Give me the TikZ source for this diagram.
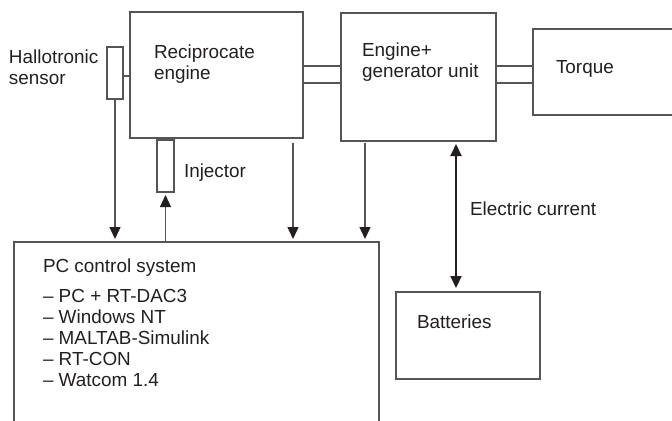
\documentclass[tikz,border=0pt]{standalone}
\usepackage{fontspec}
\setmainfont{Liberation Sans}
\usetikzlibrary{arrows.meta,calc}
\definecolor{linec}{HTML}{555555}
\definecolor{txt}{HTML}{231F20}
\begin{document}
\begin{tikzpicture}[x=0.5pt,y=-0.5pt,
  box/.style={draw=linec, line width=0.7pt, inner sep=0pt, outer sep=0pt},
  lbl/.style={anchor=base west, inner sep=0pt, outer sep=0pt, text=txt, font=\fontsize{9.45}{10.5}\selectfont},
  conn/.style={draw=linec, line width=0.65pt},
  arr/.style={draw=linec, line width=0.65pt, -{Triangle[length=6pt,width=5.5pt,color=txt]}},
  darr/.style={draw=txt, line width=1pt, {Triangle[length=6pt,width=5.5pt]}-{Triangle[length=6pt,width=5.5pt]}},
]
\useasboundingbox (0,0) rectangle (672,420);
\clip (0,0) rectangle (672,420);

% boxes
\node[box, minimum width=86.5pt, minimum height=63pt] (eng) at (216.5,75) {};
\node[box, minimum width=8pt, minimum height=26pt] (hall) at (115,73) {};
\node[box, minimum width=8.5pt, minimum height=26pt] (inj) at (165.5,166) {};
\node[box, minimum width=77.5pt, minimum height=64pt] (gen) at (418.5,77) {};
\node[box, minimum width=78.5pt, minimum height=43pt] (tq) at (611.5,72) {};
\node[box, minimum width=72pt, minimum height=43.5pt] (bat) at (468,335.5) {};
\node[box, minimum width=182.5pt, minimum height=99pt] (pc) at (196.5,341) {};

% labels
\node[lbl] (t1) at (9,63) {Hallotronic};
\node[lbl] (t2) at (9,84) {sensor};
\node[lbl] (t3) at (154,58.5) {Reciprocate};
\node[lbl] (t4) at (154,79.5) {engine};
\node[lbl] (t5) at (184,177) {Injector};
\node[lbl] (t6) at (362,56) {Engine+};
\node[lbl] (t7) at (362,77) {generator unit};
\node[lbl] (t8) at (556,73) {Torque};
\node[lbl] (t9) at (470,215) {Electric current};
\node[lbl] (t10) at (417,328) {Batteries};
\node[lbl] (t11) at (43,272) {PC control system};
\node[lbl] (l1) at (43,302) {-- PC + RT-DAC3};
\node[lbl] (l2) at (43,323) {-- Windows NT};
\node[lbl] (l3) at (43,344) {-- MALTAB-Simulink};
\node[lbl] (l4) at (43,365) {-- RT-CON};
\node[lbl] (l5) at (43,386) {-- Watcom 1.4};

% shafts
\coordinate (s1) at ($(eng.north east)+(0,54)$);
\coordinate (s2) at ($(eng.north east)+(0,71)$);
\draw[conn] (s1) -- (s1 -| gen.west);
\draw[conn] (s2) -- (s2 -| gen.west);
\draw[conn] (s1 -| gen.east) -- (s1 -| tq.west);
\draw[conn] (s2 -| gen.east) -- (s2 -| tq.west);

% sensor link
\coordinate (h1) at ($(hall.east)+(0,3)$);
\draw[conn] (h1) -- (h1 -| eng.west);

% arrows
\draw[arr, shorten >=1.5pt] (hall.south) -- (hall.south |- pc.north);
\draw[arr, shorten >=1.5pt] (inj.south |- pc.north) -- (inj.south);
\coordinate (e1) at ($(eng.south east)+(-10,0)$);
\draw[arr, shorten <=2.5pt, shorten >=1.5pt] (e1) -- (e1 |- pc.north);
\coordinate (g1) at ($(gen.south west)+(24,0)$);
\draw[arr, shorten <=1pt, shorten >=1.5pt] (g1) -- (g1 |- pc.north);
\coordinate (g2) at ($(gen.south west)+(115,0)$);
\draw[darr, shorten <=1.5pt, shorten >=2pt] (g2) -- (g2 |- bat.north);
\end{tikzpicture}
\end{document}
